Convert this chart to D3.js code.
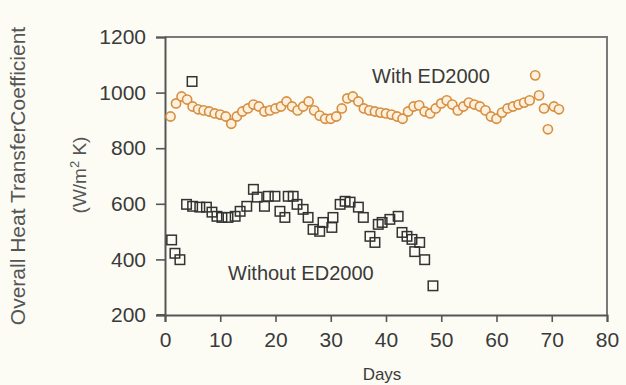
<!DOCTYPE html>
<html><head><meta charset="utf-8">
<script src="https://cdn.jsdelivr.net/npm/d3@7"></script>
<style>html,body{margin:0;padding:0;background:#fcfcf5;}svg{display:block;}</style>
</head><body>
<script>
const xTicks = [0,10,20,30,40,50,60,70,80];
const yTicks = [200,400,600,800,1000,1200];

const withDays = [1,2,3,4,5,6,7,8,9,10,11,12,13,14,15,16,17,18,19,20,21,22,23,24,25,26,27,28,29,30,31,32,33,34,35,36,37,38,39,40,41,42,43,44,45,46,47,48,49,50,51,52,53,54,55,56,57,58,59,60,61,62,63,64,65,66,67,67.7,68.6,69.3,70.4,71.3];
const withVals = [914,961,986,975,950,940,936,932,925,921,914,888,914,932,943,957,950,932,936,943,950,968,950,936,950,968,936,917,906,906,914,943,979,986,968,943,936,932,928,925,921,914,906,932,950,954,932,925,943,961,972,957,936,950,964,957,950,936,914,906,928,943,950,957,964,972,1062,990,943,868,950,940];

const withoutDays = [1.2,1.8,2.7,3.9,5,6.3,7.5,8.5,9.4,10.3,11.4,12.7,13.6,14.8,16,16.7,18,18.7,19.9,20.8,21.7,22.3,23.2,23.9,25,25.9,26.8,28,28.6,30.2,30.4,31.7,32.6,33.5,35,35.9,37.1,38,38.6,39.3,40.7,42.2,42.9,43.8,44.7,45.2,46.1,47,48.5,4.9];
const withoutVals = [470,422,399,598,591,588,588,570,555,551,551,555,573,591,652,624,591,627,627,573,551,627,627,598,580,551,508,501,533,515,551,598,609,606,588,551,483,461,526,533,544,555,497,483,472,428,461,399,305,1040];

const W = 626, H = 385;
const svg = d3.select("body").append("svg").attr("width", W).attr("height", H);
svg.append("rect").attr("width", W).attr("height", H).attr("fill", "#fcfcf5");

const x = d3.scaleLinear().domain([0,80]).range([165,607]);
const y = d3.scaleLinear().domain([200,1200]).range([315,37]);
const font = "'Liberation Sans', Arial, sans-serif";
const ink = "#3a3a3a";

svg.append("path").attr("d", `M${x(0)},${y(1200)}H${x(80)}V${y(200)}`)
  .attr("fill","none").attr("stroke","#7a7a7a").attr("stroke-width",2);

const xAxis = svg.append("g").attr("transform", `translate(0,${y(200)})`)
  .call(d3.axisBottom(x).tickValues(xTicks).tickFormat(d3.format("d")).tickSize(7).tickPadding(10));
const yAxis = svg.append("g").attr("transform", `translate(${x(0)},0)`)
  .call(d3.axisLeft(y).tickValues(yTicks).tickFormat(d3.format("d")).tickSize(9).tickPadding(10));
[xAxis, yAxis].forEach(g => {
  g.select(".domain").attr("stroke","#555").attr("stroke-width",2);
  g.selectAll(".tick line").attr("stroke","#555").attr("stroke-width",1.6);
  g.selectAll("text").attr("fill", ink).style("font-family", font).style("font-size","21px");
});
svg.append("line").attr("x1", x(0)-8).attr("x2", x(0)).attr("y1", y(200)).attr("y2", y(200))
  .attr("stroke","#555").attr("stroke-width",2);

svg.append("text").attr("transform","translate(25,176) rotate(-90)").attr("text-anchor","middle")
  .attr("fill", "#555").style("font-family", font).style("font-size","21px")
  .text("Overall Heat TransferCoefficient");
const t2 = svg.append("text").attr("transform","translate(86,175) rotate(-90)").attr("text-anchor","middle")
  .attr("fill", "#555").style("font-family", font).style("font-size","19px");
t2.append("tspan").text("(W/m");
t2.append("tspan").attr("dy",-7).style("font-size","13px").text("2");
t2.append("tspan").attr("dy",7).text(" K)");
svg.append("text").attr("x", 382).attr("y", 380).attr("text-anchor","middle")
  .attr("fill", ink).style("font-family", font).style("font-size","17px").text("Days");

svg.append("g").selectAll("circle").data(withDays).join("circle")
  .attr("cx", d => x(d)).attr("cy", (d,i) => y(withVals[i])).attr("r", 4.6)
  .attr("fill", "#fdf1de").attr("stroke", "#d68f42").attr("stroke-width", 1.6);

const s = 9.5;
svg.append("g").selectAll("rect").data(withoutDays).join("rect")
  .attr("x", d => x(d) - s/2).attr("y", (d,i) => y(withoutVals[i]) - s/2)
  .attr("width", s).attr("height", s)
  .attr("fill", "none").attr("stroke", "#333").attr("stroke-width", 1.5);

svg.append("text").attr("x", 372).attr("y", 83).attr("fill", ink)
  .style("font-family", font).style("font-size","20px").text("With ED2000");
svg.append("text").attr("x", 228).attr("y", 280).attr("fill", ink)
  .style("font-family", font).style("font-size","20px").text("Without ED2000");
</script>
</body></html>
